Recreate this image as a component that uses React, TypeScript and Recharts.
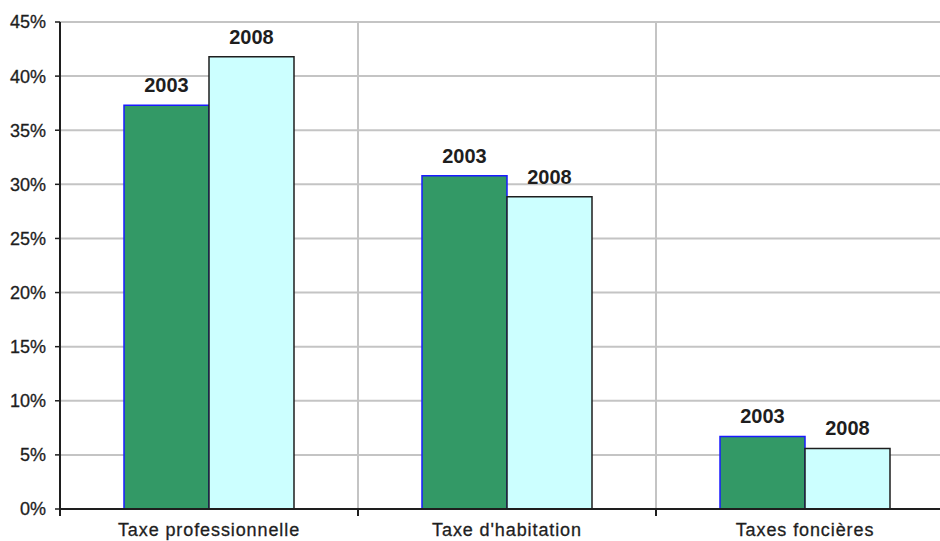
import { BarChart, Bar, XAxis, YAxis, CartesianGrid, LabelList } from "recharts";

// Share of each local tax, 2003 vs 2008 (percent)
const categories = ["Taxe professionnelle", "Taxe d'habitation", "Taxes foncières"];
const share2003 = [37.3, 30.8, 6.7];
const share2008 = [41.8, 28.85, 5.6];
const yTicks = [0, 5, 10, 15, 20, 25, 30, 35, 40, 45];
const boundaryTicks = [0, 1, 2, 3];

const data = categories.map((name, i) => ({
  name,
  slot: i,
  y2003: share2003[i],
  y2008: share2008[i],
}));

const FONT = "'Liberation Sans', Arial, sans-serif";
const INK = "#1e1e1e";

export default function App() {
  return (
    <div
      style={{
        position: "absolute",
        left: 0,
        top: 0,
        width: 940,
        height: 541,
        overflow: "hidden",
        background: "#fff",
      }}
    >
      <BarChart
        width={960}
        height={541}
        data={data}
        margin={{ top: 22, right: 6, bottom: 0, left: 0 }}
        barGap={0}
        barSize={85}
      >
        <CartesianGrid
          xAxisId="edges"
          stroke="#c4c4c4"
          strokeWidth={2}
          horizontalValues={yTicks}
          verticalValues={boundaryTicks}
        />
        <XAxis
          xAxisId="labels"
          dataKey="name"
          height={24}
          axisLine={false}
          tickLine={false}
          tickSize={0}
          tickMargin={6}
          tick={{ fill: INK, fontSize: 18, fontFamily: FONT, letterSpacing: 0.9, stroke: INK, strokeWidth: 0.3 }}
        />
        {/* numeric axis spanning the groups: boundary tick marks and grid lines */}
        <XAxis
          xAxisId="edges"
          dataKey="slot"
          type="number"
          domain={[0, 3]}
          ticks={boundaryTicks}
          interval={0}
          height={8}
          tickSize={7}
          tickFormatter={() => ""}
          axisLine={{ stroke: INK, strokeWidth: 2 }}
          tickLine={{ stroke: INK, strokeWidth: 2 }}
          allowDataOverflow
        />
        <YAxis
          width={60}
          domain={[0, 45]}
          ticks={yTicks}
          tickFormatter={(v) => `${v}%`}
          tickSize={5}
          tickMargin={9}
          axisLine={{ stroke: INK, strokeWidth: 2 }}
          tickLine={{ stroke: INK, strokeWidth: 1.5 }}
          tick={{ fill: INK, fontSize: 18, fontFamily: FONT, stroke: INK, strokeWidth: 0.3 }}
        />
        <Bar
          xAxisId="labels"
          dataKey="y2003"
          fill="#339966"
          stroke="#1a1aff"
          strokeWidth={1.5}
          isAnimationActive={false}
        >
          <LabelList
            dataKey="y2003"
            position="top"
            offset={13}
            formatter={() => "2003"}
            style={{ fill: INK, fontSize: 20, fontWeight: 700, fontFamily: FONT }}
          />
        </Bar>
        <Bar
          xAxisId="labels"
          dataKey="y2008"
          fill="#ccffff"
          stroke={INK}
          strokeWidth={1.5}
          isAnimationActive={false}
        >
          <LabelList
            dataKey="y2008"
            position="top"
            offset={13}
            formatter={() => "2008"}
            style={{ fill: INK, fontSize: 20, fontWeight: 700, fontFamily: FONT }}
          />
        </Bar>
      </BarChart>
    </div>
  );
}
